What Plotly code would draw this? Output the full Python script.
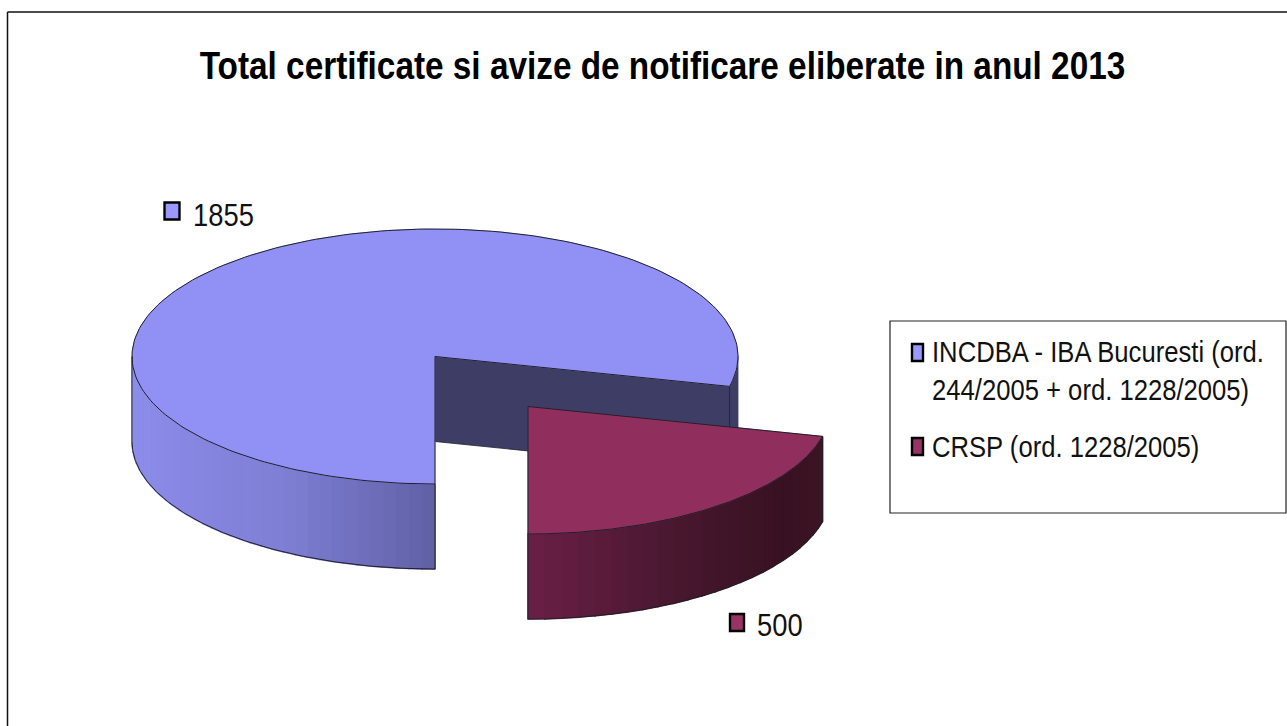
import numpy as np
import plotly.graph_objects as go

# ---- data ----
title_text = "Total certificate si avize de notificare eliberate in anul 2013"
categories = ["INCDBA - IBA Bucuresti (ord.<br>244/2005 + ord. 1228/2005)", "CRSP (ord. 1228/2005)"]
values = [1855, 500]
swatch_colors = ["#9999FF", "#993366"]
top_colors = ["#9090F5", "#902F5E"]
wall_color = "#3D3D66"
blue_side_stops = [(0.0, (140, 140, 234)), (0.5, (126, 126, 212)), (1.0, (96, 96, 166))]
red_side_stops = [(0.0, (106, 32, 70)), (0.5, (72, 23, 47)), (0.85, (56, 18, 34)), (1.0, (60, 20, 36))]

# ---- geometry of the pie (pixel coordinates) ----
CX, CY, RX, RY, DEPTH = 435.0, 356.5, 303.0, 127.5, 85.0
EXPLODE = (93.0, 50.0)
FONT = "Liberation Sans, Arial, sans-serif"
EDGE = "#20202a"
TEXT_SQUEEZE = 0.855

total = sum(values)
sweep = [360.0 * v / total for v in values]
# angles are clockwise from 12 o'clock; first slice starts at 6 o'clock
blue_start = 180.0
blue_end = blue_start + sweep[0]
red_start = blue_end
red_end = red_start + sweep[1]


def pt(t, cx=CX, cy=CY):
    r = np.radians(t)
    return cx + RX * np.sin(r), cy - RY * np.cos(r)


def arc(a, b, cx=CX, cy=CY, n=200):
    return pt(np.linspace(a, b, n), cx, cy)


def lerp(stops, f):
    for (f0, c0), (f1, c1) in zip(stops, stops[1:]):
        if f <= f1:
            k = (f - f0) / (f1 - f0)
            return "rgb(%d,%d,%d)" % tuple(round(a + (b - a) * k) for a, b in zip(c0, c1))
    return "rgb(%d,%d,%d)" % stops[-1][1]


fig = go.Figure()


def poly(x, y, color, line=None, width=0.8):
    x, y = list(x), list(y)
    fig.add_trace(go.Scatter(x=x + x[:1], y=y + y[:1], mode="lines", fill="toself", fillcolor=color,
                             line=dict(color=line or color, width=width), hoverinfo="skip", showlegend=False))


def outline(x, y, width=1.0):
    fig.add_trace(go.Scatter(x=list(x), y=list(y), mode="lines", line=dict(color=EDGE, width=width),
                             hoverinfo="skip", showlegend=False))


def side(a, b, cx, cy, stops, n):
    edges = np.linspace(a, b, n + 1)
    xa, _ = pt(a, cx, cy)
    xb, _ = pt(b, cx, cy)
    for t0, t1 in zip(edges, edges[1:]):
        x, y = arc(t0, t1, cx, cy, 8)
        f = (float(np.mean(x)) - min(xa, xb)) / abs(xb - xa)
        poly(list(x) + list(x[::-1]), list(y) + list(y[::-1] + DEPTH), lerp(stops, f), width=1.6)


# blue: outer right sliver, cut wall, outer left side, top
x, y = arc(90, blue_end - 360, n=30)
poly(list(x) + list(x[::-1]), list(y) + list(y[::-1] + DEPTH), wall_color)
ex, ey = pt(blue_end)
poly([CX, ex, ex, CX], [CY, ey, ey + DEPTH, CY + DEPTH], wall_color, EDGE)
side(blue_start, 270, CX, CY, blue_side_stops, 36)
x, y = arc(blue_start, blue_end)
poly([CX] + list(x), [CY] + list(y), top_colors[0])
outline([ex, CX, CX], [ey, CY, CY + RY])
outline(*arc(blue_start, blue_end))
x, y = arc(blue_start, 270)
outline(x, y + DEPTH)
outline([CX, CX], [CY + RY, CY + RY + DEPTH])
outline([CX - RX, CX - RX], [CY, CY + DEPTH], 0.8)

# red: outer side, top
RCX, RCY = CX + EXPLODE[0], CY + EXPLODE[1]
side(red_start - 360, 180, RCX, RCY, red_side_stops, 24)
x, y = arc(red_start - 360, 180, RCX, RCY)
poly([RCX] + list(x), [RCY] + list(y), top_colors[1])
outline([x[0], RCX, RCX], [y[0], RCY, RCY + RY])
outline(x, y)
outline(x, y + DEPTH)
outline([x[0], x[0]], [y[0], y[0] + DEPTH], 0.8)
outline([RCX, RCX], [RCY + RY, RCY + RY + DEPTH], 0.8)

shapes = [
    dict(type="line", x0=7.5, x1=1287, y0=12, y1=12, line=dict(color="#111", width=1.5)),
    dict(type="line", x0=7.5, x1=7.5, y0=12, y1=726, line=dict(color="#111", width=1.5)),
    dict(type="rect", x0=890, x1=1286, y0=321, y1=513, line=dict(color="#222", width=1.2)),
]


def swatch(x0, x1, y0, y1, color):
    shapes.append(dict(type="rect", x0=x0, x1=x1, y0=y0, y1=y1, fillcolor=color, line=dict(color="#000", width=2.4)))


annotations = []


def text(x, y, s, size):
    annotations.append(dict(x=x, y=y, text=s, xref="x", yref="y", xanchor="left", yanchor="middle", align="left",
                            showarrow=False, font=dict(family=FONT, size=size, color="#111")))


# data labels
swatch(164.5, 179.5, 202.5, 219.5, swatch_colors[0])
text(191, 214.5, str(values[0]), 32)
swatch(730, 744, 614, 631, swatch_colors[1])
text(755, 624.5, str(values[1]), 32)

# legend
swatch(912, 923, 344, 361, swatch_colors[0])
line_a, line_b = categories[0].split("<br>")
text(930, 351, line_a, 30)
text(930, 389.5, line_b, 30)
swatch(912, 923, 438, 455, swatch_colors[1])
text(930, 446, categories[1], 30)

fig.update_layout(
    width=1287, height=726, margin=dict(l=0, r=0, t=0, b=0),
    paper_bgcolor="white", plot_bgcolor="white", showlegend=False,
    title=dict(text="<b>%s</b>" % title_text, x=662.5 / 1287, xanchor="center", y=1 - 65.5 / 726, yanchor="middle",
               font=dict(family=FONT, size=39, color="#000")),
    xaxis=dict(range=[0, 1287], visible=False, fixedrange=True),
    yaxis=dict(range=[726, 0], visible=False, fixedrange=True),
    shapes=shapes, annotations=annotations,
)

# Narrow the glyphs of every label (the reference uses a condensed face that is not installed)
post = """
document.body.style.margin='0';document.body.style.overflow='hidden';
(function(){
  var k=%s;
  function squeeze(){
    document.querySelectorAll('.annotation-text, .gtitle').forEach(function(t){
      if(t.dataset.sq){return;}
      var b=t.getBBox();
      if(!b.width){return;}
      var isTitle=t.classList.contains('gtitle');
      var ox=isTitle? b.x+b.width/2 : b.x;
      var old=t.getAttribute('transform')||'';
      t.setAttribute('transform', old+' matrix('+k+',0,0,1,'+(ox*(1-k))+',0)');
      t.dataset.sq='1';
    });
  }
  squeeze();setTimeout(squeeze,0);setTimeout(squeeze,200);
})();
""" % TEXT_SQUEEZE
fig.write_html("out.html", config=dict(displayModeBar=False), post_script=post)
